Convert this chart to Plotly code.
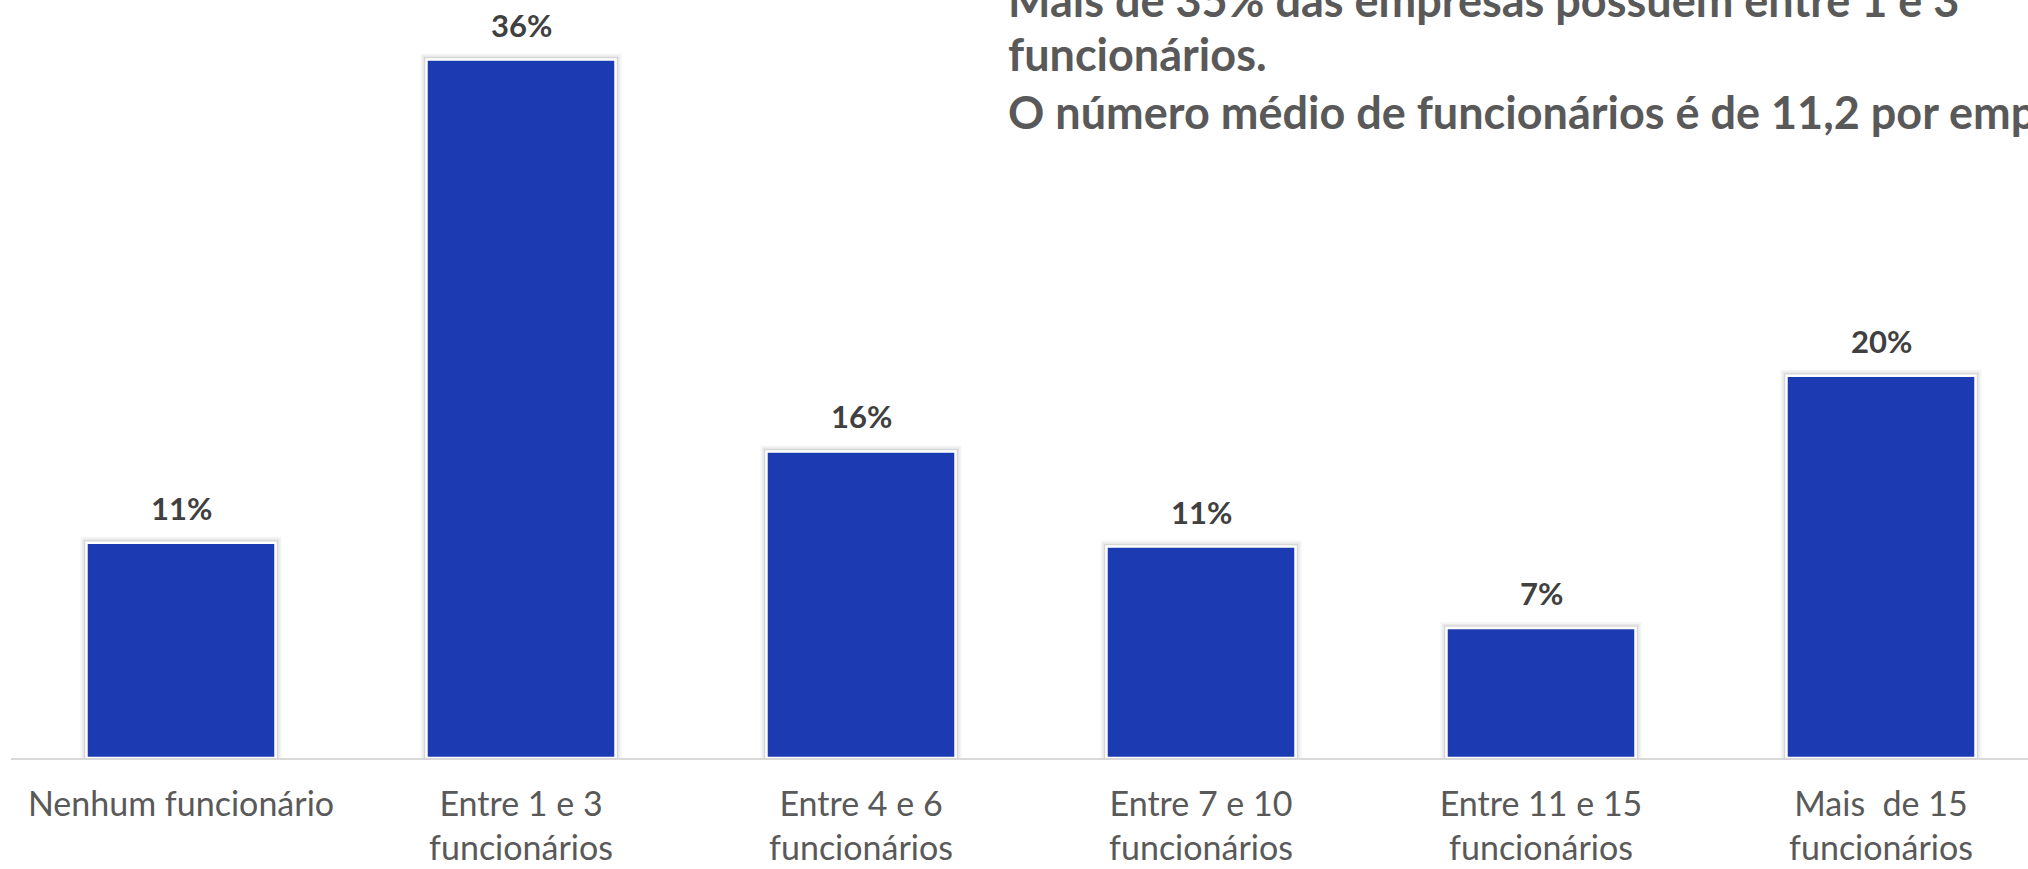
import plotly.graph_objects as go

categories = ["Nenhum funcionário", "Entre 1 e 3<br>funcionários", "Entre 4 e 6<br>funcionários",
              "Entre 7 e 10<br>funcionários", "Entre 11 e 15<br>funcionários", "Mais  de 15<br>funcionários"]
values = [11.1, 36.0, 15.8, 10.9, 6.7, 19.7]
title_lines = ["Mais de 35% das empresas possuem entre 1 e 3",
               "funcionários.",
               "O número médio de funcionários é de 11,2 por empresa."]

W, H = 2028, 869
plot_left, plot_bottom = 11, 758
bar_color = "#1C3AB1"
x_idx = list(range(len(categories)))

fig = go.Figure()
# soft shadow around bars
for lw, op in [(12, 0.06), (8, 0.08), (5, 0.12)]:
    fig.add_trace(go.Bar(x=x_idx, y=values, width=0.556,
                         marker=dict(color="rgba(0,0,0,0)", line=dict(color=f"rgba(90,90,90,{op})", width=lw)),
                         hoverinfo="skip", showlegend=False))
fig.add_trace(go.Bar(x=x_idx, y=values, width=0.556,
                     marker=dict(color=bar_color, line=dict(color="white", width=2.5)),
                     showlegend=False))

for i, v in zip(x_idx, values):
    fig.add_annotation(x=i, y=v, xref="x", yref="y", text=f"{v:.0f}%", showarrow=False,
                       yanchor="bottom", yshift=14,
                       font=dict(family="Lato", size=31, color="#404040", weight="bold"))

plot_h = plot_bottom
for txt, py in zip(title_lines, [0, 54, 112]):
    fig.add_annotation(x=(1006 - plot_left) / (W - plot_left), y=1 - py / plot_h, xref="paper", yref="paper",
                       text=f"<b>{txt}</b>", showarrow=False, xanchor="left", yanchor="middle",
                       font=dict(family="Lato", size=45, color="#595959"))

fig.update_layout(
    width=W, height=H,
    margin=dict(l=plot_left, r=0, t=0, b=H - plot_bottom, pad=0),
    plot_bgcolor="white", paper_bgcolor="white",
    barmode="overlay",
    xaxis=dict(tickmode="array", tickvals=x_idx, ticktext=categories, range=[-0.5, (W - plot_left) / 340 - 0.5],
               showline=True, linecolor="#D9D9D9", linewidth=2, ticks="", showgrid=False, zeroline=False,
               tickfont=dict(family="Lato", size=34, color="#595959"), ticklabelstandoff=15),
    yaxis=dict(range=[0, plot_bottom / 19.4], visible=False, showgrid=False, zeroline=False),
)

fig.write_html("out.html", config={"displayModeBar": False},
               post_script="document.body.style.margin='0';document.body.style.overflow='hidden';")
